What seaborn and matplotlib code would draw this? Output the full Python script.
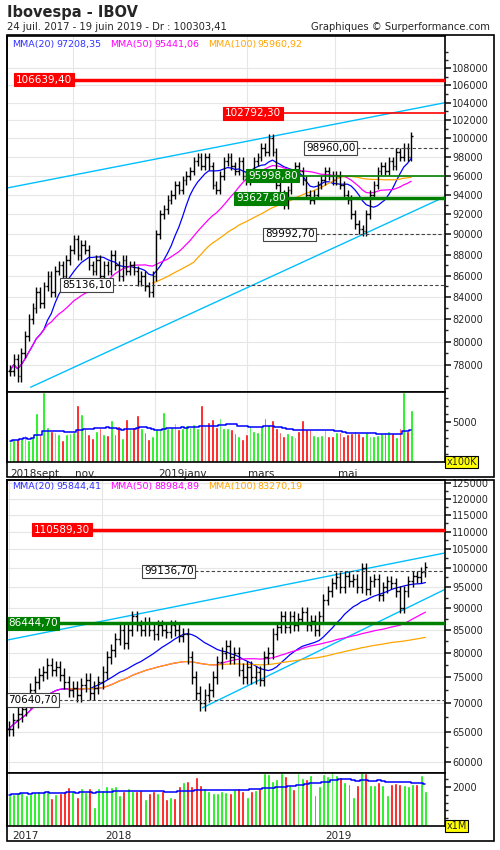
import numpy as np
import pandas as pd
import seaborn as sns
import matplotlib
matplotlib.use("Agg")
import matplotlib.pyplot as plt
from matplotlib.patches import Rectangle
from matplotlib.transforms import blended_transform_factory as btf
from matplotlib.ticker import FixedLocator, NullFormatter

sns.set_theme(style="white")
plt.rcParams['font.family'] = ['DejaVu Sans']

# ---------------- DATA ----------------
title = "Ibovespa - IBOV"
subtitle = "24 juil. 2017 - 19 juin 2019 - Dr : 100303,41"
credit = "Graphiques © Surperformance.com"

# daily chart (one bar per 2 sessions), closes in thousands
top_close = [77.5, 78.5, 77, 79, 80.5, 82, 83, 84.5, 83.5, 85,
             86, 84.5, 86.5, 87, 86, 87.5, 88.5, 89.5, 88, 89,
             88.5, 87, 86.5, 87.5, 86, 87, 86.5, 88, 87, 86,
             87.5, 86.5, 87, 86.5, 85.5, 86, 85, 84.5, 86, 90,
             92, 92.5, 93.5, 94, 95, 94.5, 95.5, 96, 96.5, 97.5,
             98, 97, 98, 97, 95, 94.5, 96, 97.5, 98, 97,
             96.5, 97.5, 96, 95.5, 96, 97.5, 98, 99, 98.5, 100,
             98.5, 95, 94, 93, 94.5, 96, 97, 96.5, 95.5, 94,
             93.5, 94, 95, 95.5, 96.5, 96, 95.5, 96, 95, 94,
             93.5, 92, 91, 90.5, 90.3, 92, 94, 95, 96.5, 97,
             96.5, 97.5, 97, 98.5, 98, 99, 98, 100.3]
top_vol = [2600, 2900, 2900, 3000, 3400, 2800, 3100, 6100, 3400, 8700,
           4400, 3900, 3800, 3500, 2800, 3500, 3600, 3700, 7100, 6000,
           4300, 3500, 3000, 3900, 4300, 3500, 3400, 5200, 3500, 4500,
           3000, 5400, 4100, 4400, 5900, 4200, 3800, 2900, 3300, 4100,
           4200, 6200, 4200, 4400, 4900, 4100, 4200, 4600, 4400, 4700,
           4300, 7100, 4500, 5000, 5400, 4400, 5500, 4200, 4300, 4100,
           3600, 3300, 2900, 3500, 4600, 3900, 3800, 4500, 5500, 4800,
           5200, 4300, 3700, 3200, 3600, 3400, 3100, 3900, 5200, 4100,
           4100, 3400, 3200, 3400, 4000, 3300, 3200, 3800, 3800, 3200,
           3500, 3600, 3900, 3600, 3300, 3800, 3200, 3300, 3400, 3600,
           3800, 3900, 3600, 3100, 4200, 8700, 3900, 6500]
top_dates = ["2018sept.", "nov.", "2019janv.", "mars", "mai"]
top_legend = [("MMA(20)", "97208,35", "#3333ff"), ("MMA(50)", "95441,06", "#ff00ff"),
              ("MMA(100)", "95960,92", "#ffa500")]
top_trend_upper = [94.7, 104.0]
top_trend_lower = [76.1, 93.8]

# weekly chart, closes in thousands
wk_close = [65.5, 67, 68, 69, 70.5, 72.5, 74, 75.5,
            76, 77.5, 76.5, 77, 75.5, 74,
            72.5, 73, 71.5, 73.5, 74.5, 72, 73,
            74, 76, 79, 80.5, 83, 85,
            82, 85, 88, 86, 85, 86.5, 85, 84, 86, 85, 84.5, 86, 85, 83.5, 84,
            79, 75, 72, 70, 71.5, 72.5,
            75, 78, 80, 81.5, 79, 80,
            76.5, 75, 77, 75, 76, 74.5, 79,
            80, 84, 85.5, 88, 85.5, 88, 86, 87.5, 89, 86, 87, 85,
            88, 92, 94, 96, 97.5, 95, 98, 96.5, 97, 95, 100,
            94.5, 96.5, 97, 93, 95, 96.5, 96, 94,
            90, 94, 96.5, 98, 97.5, 99, 100.3]
wk_vol = [1600, 1650, 1750, 1750, 1600, 1650, 1750, 1800, 1800, 1850,
          1450, 1650, 1700, 1800, 2000, 1800, 1500, 1950, 1750, 1950,
          1000, 1950, 1850, 2050, 2000, 2050, 1600, 1800, 1950, 1800,
          1800, 1850, 1400, 1700, 1800, 1700, 1800, 1400, 1500, 1450,
          2050, 2250, 2300, 2050, 2500, 2100, 1950, 1800, 1700, 1700,
          1800, 1750, 1700, 1900, 1950, 1800, 1500, 1800, 1850, 1950,
          2700, 2650, 2300, 2400, 2700, 2550, 2100, 1900, 2700, 2450,
          2400, 2600, 1600, 2050, 2650, 2550, 2850, 2600, 2500, 2250,
          2150, 1500, 2100, 2750, 2700, 2100, 2100, 2250, 2100, 1600,
          2150, 2200, 2150, 2100, 2050, 2150, 2150, 2600, 1800]
wk_dates = ["2017", "2018", "2019"]
wk_legend = [("MMA(20)", "95844,41", "#3333ff"), ("MMA(50)", "88984,89", "#ff00ff"),
             ("MMA(100)", "83270,19", "#ffa500")]
wk_trend_upper = [82.7, 104.0]
wk_trend_lower = [69.2, 94.5]

# ---------------- LAYOUT ----------------
W, H = 500, 850
fig = plt.figure(figsize=(5, 8.5), dpi=100)
def rect(l, t, r, b):
    return [l / W, 1 - b / H, (r - l) / W, (b - t) / H]

fig.text(7 / W, 1 - 13 / H, title, fontsize=10.5, fontweight='bold', va='center')
fig.text(7 / W, 1 - 27 / H, subtitle, fontsize=7.2, va='center')
fig.text(490 / W, 1 - 27 / H, credit, fontsize=7.2, va='center', ha='right')
for (t, b) in [(35, 477), (480, 841)]:
    fig.patches.append(Rectangle((7 / W, 1 - b / H), 487 / W, (b - t) / H, fill=False,
                                 edgecolor='black', lw=1.2, transform=fig.transFigure))

GREEN = '#00ee00'
RED = '#ff0000'

def px2frac(px):
    return (px - 7) / 438.0

def draw_panel(ax, axv, close, vol, wins, legend, xlim, ylim, ticks, minor,
               vlim, vtick, unit, dates, date_px, vgrid_px, trend_u, trend_l,
               trend_lx, spread, levels, legend_y):
    n = len(close)
    x = np.arange(n)
    c = np.array(close) * 1000
    o = np.concatenate([[c[0]], c[:-1]])
    hi = np.maximum(o, c) + spread
    lo = np.minimum(o, c) - spread
    df = pd.DataFrame({'x': x, 'c': c})
    ax.set_yscale('log')
    ax.set_xlim(*xlim)
    ax.set_ylim(*ylim)
    for t in ticks:
        ax.axhline(t, color='#e6e6e6', lw=0.8, zorder=0)
    for p in vgrid_px:
        xv = xlim[0] + px2frac(p) * (xlim[1] - xlim[0])
        ax.axvline(xv, color='#e6e6e6', lw=0.8, zorder=0)
        axv.axvline(xv, color='#e6e6e6', lw=0.8, zorder=0)
    cols = ['#0000ff', '#ff00ff', '#ffa500']
    for (w, mp, start), col in zip(wins, cols):
        ma = df['c'].rolling(w, min_periods=mp).mean()
        d = pd.DataFrame({'x': x[start:], 'ma': ma[start:]})
        sns.lineplot(data=d, x='x', y='ma', ax=ax, color=col, lw=0.9, zorder=3)
    for tr, (x0, x1) in [(trend_u, trend_lx[0]), (trend_l, trend_lx[1])]:
        ax.plot([x0, x1], [tr[0] * 1000, tr[1] * 1000], color='#00bfff', lw=1, zorder=2)
    ax.vlines(x, lo, hi, color='black', lw=1.0, zorder=4)
    ax.hlines(o, x - 0.45, x, color='black', lw=1.0, zorder=4)
    ax.hlines(c, x, x + 0.45, color='black', lw=1.0, zorder=4)
    tr = btf(ax.transAxes, ax.transData)
    for val, txt, kind, lpx, lw_, full in levels:
        if kind == 'red':
            fc, tc, lc, ls = RED, 'white', RED, '-'
        elif kind == 'green':
            fc, tc, lc, ls = '#008000', 'white', '#008000', '-'
        else:
            fc, tc, lc, ls = 'white', 'black', '#444444', '--'
        ax.text(px2frac(lpx), val, txt, transform=tr, fontsize=7.5, color=tc, va='center',
                ha='left', zorder=6,
                bbox=dict(boxstyle='square,pad=0.15', fc=fc,
                          ec='#444444' if kind == 'box' else fc, lw=0.8))
        xmin = 0 if full else px2frac(lpx + len(txt) * 5.6)
        ax.axhline(val, xmin=xmin, xmax=1, color=lc, lw=lw_, ls=ls, zorder=5,
                   dashes=(3, 2) if ls == '--' else (None, None))
    xp = 12
    for name, val, col in legend:
        ax.text(px2frac(xp), legend_y, name, transform=ax.transAxes, fontsize=6.8, color=col, va='center')
        xp += len(name) * 5.2 + 8
        ax.text(px2frac(xp), legend_y, val, transform=ax.transAxes, fontsize=6.8, color=col, va='center')
        xp += len(val) * 5.2 + 12
    ax.yaxis.tick_right()
    ax.yaxis.set_major_locator(FixedLocator(ticks))
    ax.yaxis.set_minor_locator(FixedLocator(minor))
    ax.yaxis.set_minor_formatter(NullFormatter())
    ax.set_yticklabels([f"{int(t)}" for t in ticks])
    ax.tick_params(axis='y', which='major', direction='out', length=4, labelsize=7, right=True, left=False, pad=1)
    ax.tick_params(axis='y', which='minor', direction='out', length=2, right=True, left=False)
    ax.set_xticks([])
    ax.set_xlabel(''); ax.set_ylabel('')
    for s in ax.spines.values():
        s.set_linewidth(1.2)
        s.set_color('black')
    up = c >= o
    colors = [GREEN if u else RED for u in up]
    axv.bar(x, vol, width=0.7, color=colors, zorder=2)
    vma = pd.Series(vol).rolling(20, min_periods=1).mean()
    axv.step(x, vma, where='mid', color='#0000ff', lw=1.1, zorder=3)
    axv.set_xlim(*xlim)
    axv.set_ylim(*vlim)
    axv.yaxis.tick_right()
    axv.set_yticks([vtick])
    axv.set_yticklabels([str(vtick)])
    axv.yaxis.set_minor_locator(FixedLocator(np.arange(0, vlim[1], vtick / 5)))
    axv.tick_params(axis='y', which='major', direction='out', length=4, labelsize=7, pad=1)
    axv.tick_params(axis='y', which='minor', direction='out', length=2)
    axv.set_xticks([])
    for s in axv.spines.values():
        s.set_linewidth(1.2)
        s.set_color('black')
    axv.text(1.003, 0.0, unit, transform=axv.transAxes, fontsize=7, va='center', ha='left',
             bbox=dict(boxstyle='square,pad=0.15', fc='#ffff00', ec='black', lw=0.8))
    for d, p in zip(dates, date_px):
        axv.text(px2frac(p), -0.1, d, transform=axv.transAxes, fontsize=7.5, va='top', ha='left')

ax1 = fig.add_axes(rect(7, 36, 445, 392))
av1 = fig.add_axes(rect(7, 392, 445, 462))
draw_panel(ax1, av1, top_close, top_vol,
           wins=[(10, 1, 0), (25, 1, 0), (50, 25, 38)],
           legend=top_legend, xlim=(-0.8, 116.0), ylim=(75700, 111900),
           ticks=list(range(78000, 108001, 2000)), minor=list(range(76000, 111000, 1000)),
           vlim=(0, 8750), vtick=5000, unit='x100K',
           dates=top_dates, date_px=[10, 75, 158, 248, 338],
           vgrid_px=[73, 155, 247, 335],
           trend_u=top_trend_upper, trend_l=top_trend_lower,
           trend_lx=[(-0.8, 116.0), (5.5, 116.0)], spread=450,
           levels=[(106639.4, '106639,40', 'red', 16, 2.5, False),
                   (102792.3, '102792,30', 'red', 225, 1.2, False),
                   (98960.0, '98960,00', 'box', 306, 0.8, False),
                   (95998.8, '95998,80', 'green', 248, 1.2, False),
                   (93627.8, '93627,80', 'green', 236, 2.5, False),
                   (89992.7, '89992,70', 'box', 265, 0.8, False),
                   (85136.1, '85136,10', 'box', 62, 0.8, False)],
           legend_y=(392 - 44) / 356)

ax2 = fig.add_axes(rect(7, 480, 445, 773))
av2 = fig.add_axes(rect(7, 773, 445, 826))
draw_panel(ax2, av2, wk_close, wk_vol,
           wins=[(20, 1, 0), (50, 1, 0), (100, 1, 14)],
           legend=wk_legend, xlim=(-0.5, 102.6), ylim=(58300, 126000),
           ticks=list(range(60000, 125001, 5000)), minor=list(range(57500, 126000, 2500)),
           vlim=(0, 2720), vtick=2000, unit='x1M',
           dates=wk_dates, date_px=[12, 105, 325],
           vgrid_px=[9, 102, 323],
           trend_u=wk_trend_upper, trend_l=wk_trend_lower,
           trend_lx=[(-0.5, 102.6), (45.5, 102.6)], spread=1300,
           levels=[(110589.3, '110589,30', 'red', 34, 2.5, False),
                   (99136.7, '99136,70', 'box', 144, 0.8, False),
                   (86444.7, '86444,70', 'green', 8, 2.5, False),
                   (70640.7, '70640,70', 'box', 8, 0.8, False)],
           legend_y=(773 - 487) / 293)

fig.savefig('out.png', dpi=100)
